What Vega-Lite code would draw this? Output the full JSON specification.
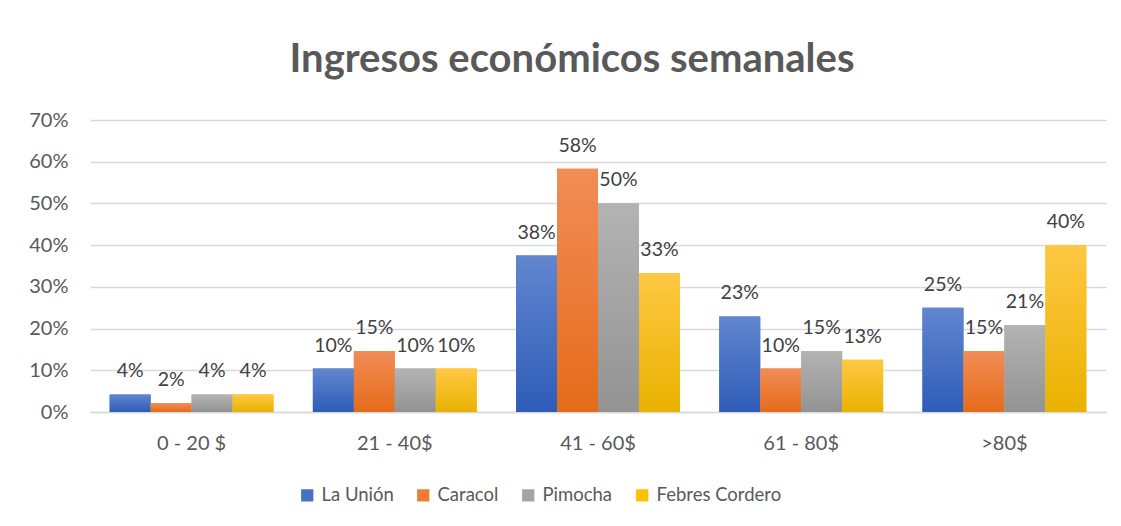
{
  "$schema": "https://vega.github.io/schema/vega-lite/v6.json",
  "autosize": "none",
  "width": 1016,
  "height": 292,
  "padding": {"left": 90, "top": 120, "right": 15, "bottom": 114},
  "background": "white",
  "title": {
    "text": "Ingresos económicos semanales",
    "font": "Lato",
    "fontSize": 40,
    "fontWeight": "bold",
    "color": "#595959",
    "anchor": "middle",
    "dx": -26,
    "offset": 30
  },
  "data": {
    "values": [
      {"rango": "0 - 20 $", "zona": "La Unión", "valor": 0.042},
      {"rango": "0 - 20 $", "zona": "Caracol", "valor": 0.021},
      {"rango": "0 - 20 $", "zona": "Pimocha", "valor": 0.042},
      {"rango": "0 - 20 $", "zona": "Febres Cordero", "valor": 0.042},
      {"rango": "21 - 40$", "zona": "La Unión", "valor": 0.104},
      {"rango": "21 - 40$", "zona": "Caracol", "valor": 0.146},
      {"rango": "21 - 40$", "zona": "Pimocha", "valor": 0.104},
      {"rango": "21 - 40$", "zona": "Febres Cordero", "valor": 0.104},
      {"rango": "41 - 60$", "zona": "La Unión", "valor": 0.375},
      {"rango": "41 - 60$", "zona": "Caracol", "valor": 0.583},
      {"rango": "41 - 60$", "zona": "Pimocha", "valor": 0.5},
      {"rango": "41 - 60$", "zona": "Febres Cordero", "valor": 0.333},
      {"rango": "61 - 80$", "zona": "La Unión", "valor": 0.229},
      {"rango": "61 - 80$", "zona": "Caracol", "valor": 0.104},
      {"rango": "61 - 80$", "zona": "Pimocha", "valor": 0.146},
      {"rango": "61 - 80$", "zona": "Febres Cordero", "valor": 0.125},
      {"rango": ">80$", "zona": "La Unión", "valor": 0.25},
      {"rango": ">80$", "zona": "Caracol", "valor": 0.146},
      {"rango": ">80$", "zona": "Pimocha", "valor": 0.208},
      {"rango": ">80$", "zona": "Febres Cordero", "valor": 0.4}
    ]
  },
  "encoding": {
    "x": {
      "field": "rango",
      "type": "nominal",
      "sort": ["0 - 20 $", "21 - 40$", "41 - 60$", "61 - 80$", ">80$"],
      "scale": {"paddingInner": 0, "paddingOuter": 0},
      "axis": {
        "title": null,
        "labelAngle": 0,
        "ticks": false,
        "domainColor": "#d9d9d9",
        "domainWidth": 1.5,
        "labelPadding": 21,
        "labelFont": "Lato",
        "labelFontSize": 20,
        "labelColor": "#595959"
      }
    },
    "xOffset": {
      "field": "zona",
      "type": "nominal",
      "sort": ["La Unión", "Caracol", "Pimocha", "Febres Cordero"],
      "scale": {"domain": ["La Unión", "Caracol", "Pimocha", "Febres Cordero"], "paddingInner": 0, "paddingOuter": 0.48}
    },
    "y": {
      "field": "valor",
      "type": "quantitative",
      "scale": {"domain": [0, 0.7]},
      "axis": {
        "title": null,
        "format": ".0%",
        "values": [0, 0.1, 0.2, 0.3, 0.4, 0.5, 0.6, 0.7],
        "domain": false,
        "ticks": false,
        "gridColor": "#d9d9d9",
        "gridWidth": 1.5,
        "labelPadding": 22,
        "labelFont": "Lato",
        "labelFontSize": 20,
        "labelColor": "#595959"
      }
    }
  },
  "layer": [
    {
      "mark": {"type": "bar"},
      "encoding": {
        "color": {
          "field": "zona",
          "type": "nominal",
          "sort": ["La Unión", "Caracol", "Pimocha", "Febres Cordero"],
          "scale": {
            "domain": ["La Unión", "Caracol", "Pimocha", "Febres Cordero"],
            "range": ["#4472c4", "#ed7d31", "#a5a5a5", "#ffc000"]
          },
          "legend": {
            "title": null,
            "orient": "none",
            "direction": "horizontal",
            "legendX": 208,
            "legendY": 366,
            "symbolType": "square",
            "symbolSize": 150,
            "symbolStrokeWidth": 0,
            "symbolOpacity": 1,
            "columnPadding": 20,
            "labelFont": "Lato",
            "labelFontSize": 18.5,
            "labelColor": "#595959",
            "labelOffset": 5
          }
        }
      }
    },
    {
      "transform": [{"filter": "datum.zona == 'La Unión'"}],
      "mark": {"type": "bar", "color": {"gradient": "linear", "x1": 0, "y1": 0, "x2": 0, "y2": 1, "stops": [{"offset": 0, "color": "#6286cf"}, {"offset": 1, "color": "#2e5cb8"}]}}
    },
    {
      "transform": [{"filter": "datum.zona == 'Caracol'"}],
      "mark": {"type": "bar", "color": {"gradient": "linear", "x1": 0, "y1": 0, "x2": 0, "y2": 1, "stops": [{"offset": 0, "color": "#f18d57"}, {"offset": 1, "color": "#e56b1a"}]}}
    },
    {
      "transform": [{"filter": "datum.zona == 'Pimocha'"}],
      "mark": {"type": "bar", "color": {"gradient": "linear", "x1": 0, "y1": 0, "x2": 0, "y2": 1, "stops": [{"offset": 0, "color": "#b3b3b3"}, {"offset": 1, "color": "#939393"}]}}
    },
    {
      "transform": [{"filter": "datum.zona == 'Febres Cordero'"}],
      "mark": {"type": "bar", "color": {"gradient": "linear", "x1": 0, "y1": 0, "x2": 0, "y2": 1, "stops": [{"offset": 0, "color": "#ffc843"}, {"offset": 1, "color": "#e9b200"}]}}
    },
    {
      "mark": {"type": "text", "baseline": "bottom", "dy": -13, "font": "Lato", "fontSize": 19.5, "color": "#404040"},
      "encoding": {
        "text": {"field": "valor", "type": "quantitative", "format": ".0%"}
      }
    }
  ],
  "config": {"view": {"stroke": null}}
}
